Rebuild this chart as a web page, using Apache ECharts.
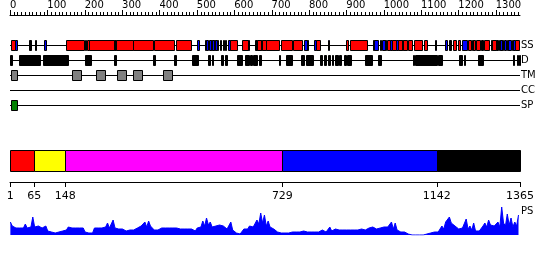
<!DOCTYPE html>
<html><head><meta charset="utf-8">
<script src="https://cdn.jsdelivr.net/npm/echarts@6/dist/echarts.min.js"></script>
<style>html,body{margin:0;padding:0;background:#fff}#c{width:550px;height:260px}</style>
</head><body><div id="c"></div>
<script>
const seqLength = 1365;
const trackNames = ['SS','D','TM','CC','SP'];
// secondary structure: [start, end, kind]  h = helix, e = strand, k = other
const ssFeatures = [
[2,13,'h'],[13,18,'e'],[51,55,'k'],[67,70,'k'],[92,96,'e'],
[151,199,'h'],[201,204,'k'],[205,212,'h'],[212,278,'h'],[278,283,'k'],
[283,328,'h'],[328,383,'h'],[385,440,'h'],[444,484,'h'],
[501,506,'e'],[522,524,'k'],[524,530,'e'],[532,538,'e'],[538,540,'k'],[540,545,'e'],[545,548,'k'],[548,553,'e'],[554,557,'k'],
[562,565,'k'],[569,572,'k'],[575,579,'k'],[584,589,'e'],[590,608,'h'],
[621,636,'h'],[636,640,'e'],[657,660,'k'],[662,672,'h'],[672,675,'k'],[675,685,'h'],
[686,721,'h'],[724,754,'h'],[758,782,'h'],[788,794,'e'],[794,797,'k'],
[814,820,'e'],[820,830,'h'],[852,855,'e'],[898,905,'h'],[911,955,'h'],
[972,975,'k'],[975,986,'e'],[989,992,'k'],[995,1003,'e'],[1004,1007,'k'],
[1009,1016,'h'],[1018,1022,'e'],[1022,1032,'h'],[1033,1039,'e'],[1039,1049,'h'],[1049,1052,'k'],[1052,1063,'h'],[1066,1077,'h'],
[1082,1102,'h'],[1108,1117,'h'],[1137,1141,'e'],
[1164,1170,'e'],[1176,1179,'k'],[1186,1193,'h'],[1198,1205,'h'],
[1209,1222,'e'],[1225,1235,'h'],[1236,1239,'k'],[1239,1244,'h'],
[1246,1258,'h'],[1261,1265,'k'],[1268,1281,'h'],[1287,1290,'k'],[1290,1301,'h'],
[1302,1305,'k'],[1308,1311,'k'],[1311,1316,'e'],[1317,1320,'k'],[1321,1328,'e'],[1330,1333,'k'],[1334,1341,'e'],[1343,1346,'k'],[1346,1351,'e'],[1352,1362,'h']
];
const disorderRegions = [[0,5],[24,80],[87,154],[200,218],[278,285],[383,388],[438,443],[488,502],[531,534],[540,543],[566,570],[576,580],[607,620],[629,639],[643,649],[651,660],[667,671],[721,723],[740,755],[778,787],[791,812],[830,834],[841,847],[852,856],[861,865],[870,877],[880,885],[895,898],[903,914],[950,968],[986,992],[1078,1081],[1084,1142],[1145,1157],[1203,1210],[1214,1218],[1253,1266],[1347,1350],[1356,1359],[1361,1365]];
const tmRegions = [[2,19],[166,189],[231,253],[287,310],[330,352],[410,433]];
const ccRegions = [];
const spRegions = [[2,19]];
const domainBounds = [1,65,148,729,1142,1365];
const domainColors = ['#ff0000','#ffff00','#ff00ff','#0000ff','#000000'];
const rulerStep = 100;
const rulerMinorStep = 10;
const psStart = 1, psStep = 5;
const psValues = [
13,9,8,7,8,7,9,7,11,7, 7,8,18,8,7,9,10,7,8,9, 4,3,3,3,2,3,3,3,4,5, 5,8,10,7,9,7,8,7,6,7,
3,1,2,1,2,7,6,7,5,7, 6,8,12,7,6,15,7,5,6,7, 6,5,4,5,5,4,5,6,7,6, 9,10,13,8,14,9,7,5,6,5,
6,7,9,7,6,7,8,7,6,7, 6,6,5,6,8,6,5,6,5,4, 7,9,8,14,9,17,10,13,8,9, 9,8,10,8,9,7,6,5,13,5,
4,2,1,1,2,6,7,6,9,7, 8,10,15,11,22,12,20,9,14,8, 7,6,4,3,2,2,2,2,3,2, 2,3,2,3,2,3,3,4,5,3,
4,3,3,3,4,3,4,5,4,3, 5,8,4,5,6,8,5,4,5,6, 5,6,5,4,5,7,5,4,6,4, 5,4,7,6,8,7,6,8,7,7,
8,10,8,7,13,6,12,5,3,3, 3,3,3,1,0,0,0,0,0,0, 0,0,0,1,1,2,2,3,2,3, 5,9,6,13,15,18,12,10,9,11,
6,5,7,5,16,6,9,5,12,4, 5,4,6,9,12,8,15,10,8,9, 10,13,8,28,12,9,21,10,17,8, 13,9,20
];

const palette = {h:'#ff0000', e:'#0000ff', k:'#000000', D:'#000000', TM:'#808080', SP:'#008000', CC:'#ffa500'};
const colorKeys = Object.keys(palette);
const trackData = [];
ssFeatures.forEach(f => trackData.push([f[0], f[1], 0, colorKeys.indexOf(f[2])]));
disorderRegions.forEach(f => trackData.push([f[0], f[1], 1, colorKeys.indexOf('D')]));
tmRegions.forEach(f => trackData.push([f[0], f[1], 2, colorKeys.indexOf('TM')]));
ccRegions.forEach(f => trackData.push([f[0], f[1], 3, colorKeys.indexOf('CC')]));
spRegions.forEach(f => trackData.push([f[0], f[1], 4, colorKeys.indexOf('SP')]));
const domainData = domainColors.map((c, i) => [domainBounds[i], domainBounds[i+1], i]);
const psData = psValues.map((v, i) => [psStart + i * psStep, v]);
const rulerTicks = [];
for (let v = 0; v <= seqLength; v += rulerMinorStep) rulerTicks.push([v, 0, v % rulerStep === 0 ? 1 : 0]);

const FONT = 'DejaVu Sans';
const L = 10, W = 510;
const RULER_BASE = 15, TRACK_TOP = 45;
const plain = v => String(v);
const chart = echarts.init(document.getElementById('c'), null, {renderer:'canvas'});
chart.setOption({
  animation:false,
  backgroundColor:'#fff',
  grid:[
    {left:L, width:W, top:0, height:RULER_BASE},
    {left:L, width:W, top:TRACK_TOP, height:60},
    {left:L, width:W, top:150, height:21},
    {left:L, width:W, top:205, height:30}
  ],
  xAxis:[
    {gridIndex:0, type:'value', min:0, max:seqLength, interval:rulerStep, position:'bottom',
     axisLine:{show:true, onZero:false, lineStyle:{color:'#000', width:1}},
     axisTick:{show:false},
     axisLabel:{inside:true, margin:5, align:'left', fontSize:10, fontFamily:FONT, color:'#000', showMaxLabel:false, hideOverlap:false, formatter:plain},
     splitLine:{show:false}},
    {gridIndex:1, type:'value', min:0, max:seqLength, show:false},
    {gridIndex:2, type:'value', min:0, max:seqLength, position:'bottom', offset:11,
     axisLine:{show:true, onZero:false, lineStyle:{color:'#000', width:1}},
     axisTick:{show:false},
     axisLabel:{customValues:domainBounds, margin:9, fontSize:11, fontFamily:FONT, color:'#000', hideOverlap:false, formatter:plain},
     splitLine:{show:false}},
    {gridIndex:3, type:'value', min:0, max:seqLength, show:false}
  ],
  yAxis:[
    {gridIndex:0, type:'value', min:0, max:1, show:false},
    {gridIndex:1, type:'category', data:trackNames, inverse:true, boundaryGap:false, position:'right',
     axisLine:{show:false}, axisTick:{show:false},
     axisLabel:{margin:1, fontSize:10, fontFamily:FONT, color:'#000', interval:0},
     splitLine:{show:true, interval:0, lineStyle:{color:'#000', width:1}}},
    {gridIndex:2, type:'value', min:0, max:1, show:false},
    {gridIndex:3, type:'value', min:0, max:30, show:false}
  ],
  graphic:[{type:'text', left:521, top:206, style:{text:'PS', font:'10px "DejaVu Sans"', fill:'#000'}}],
  series:[
    {type:'custom', xAxisIndex:1, yAxisIndex:1, data:trackData, silent:true,
     encode:{x:[0,1], y:2},
     renderItem:function(params, api){
       const s = api.coord([api.value(0), api.value(2)]);
       const e = api.coord([api.value(1), api.value(2)]);
       const x0 = Math.round(s[0]) + 0.5;
       const x1 = Math.max(Math.round(e[0]) + 0.5, x0 + 1);
       const yc = Math.round(s[1]);
       return {type:'rect', shape:{x:x0, y:yc - 5 + 0.5, width:x1 - x0, height:10},
               style:{fill:palette[colorKeys[api.value(3)]], stroke:'#000', lineWidth:1}};
     }},
    {type:'custom', xAxisIndex:1, yAxisIndex:1, data:rulerTicks, silent:true, z:10,
     encode:{x:0, y:1},
     renderItem:function(params, api){
       const p = api.coord([api.value(0), 0]);
       const x = Math.round(p[0]) + 0.5;
       const yb = Math.round(p[1]) - (TRACK_TOP - RULER_BASE);
       const len = api.value(2) ? 5 : 3;
       return {type:'line', shape:{x1:x, y1:yb, x2:x, y2:yb - len}, style:{stroke:'#000', lineWidth:1}};
     }},
    {type:'custom', xAxisIndex:2, yAxisIndex:2, data:domainData, silent:true,
     encode:{x:[0,1]},
     renderItem:function(params, api){
       const s = api.coord([api.value(0), 1]);
       const e = api.coord([api.value(1), 0]);
       const x0 = Math.round(s[0]) + 0.5, x1 = Math.round(e[0]) + 0.5;
       return {type:'rect', shape:{x:x0, y:Math.round(s[1]) + 0.5, width:x1 - x0, height:Math.round(e[1] - s[1])},
               style:{fill:domainColors[api.value(2)], stroke:'#000', lineWidth:1}};
     }},
    {type:'custom', xAxisIndex:2, yAxisIndex:2, data:domainBounds.map(v => [v, 0]), silent:true,
     encode:{x:0, y:1},
     renderItem:function(params, api){
       const p = api.coord([api.value(0), 0]);
       const x = Math.round(p[0]) + 0.5;
       const y0 = Math.round(p[1]) + 11;
       return {type:'line', shape:{x1:x, y1:y0, x2:x, y2:y0 + 5}, style:{stroke:'#000', lineWidth:1}};
     }},
    {type:'line', xAxisIndex:3, yAxisIndex:3, data:psData, symbol:'none', silent:true,
     lineStyle:{color:'#0000ff', width:1}, areaStyle:{color:'#0000ff', opacity:1}}
  ]
});
</script></body></html>
